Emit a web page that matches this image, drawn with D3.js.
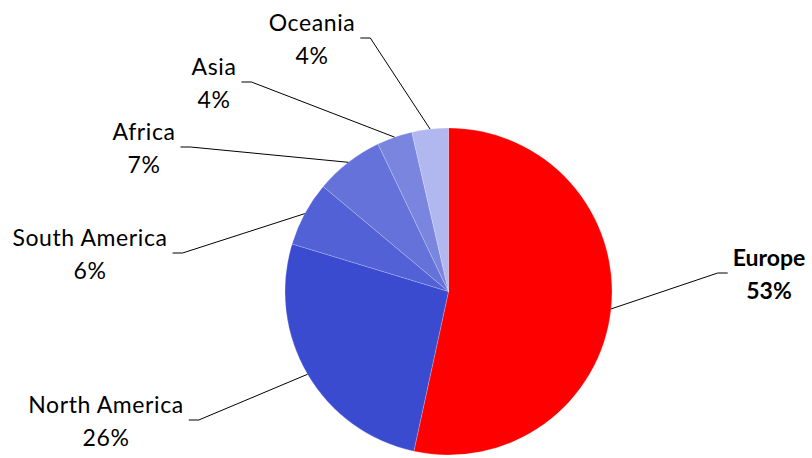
<!DOCTYPE html>
<html>
<head>
<meta charset="utf-8">
<script src="https://cdn.jsdelivr.net/npm/d3@7"></script>
<style>
  html, body { margin: 0; padding: 0; background: #fff; }
  svg { display: block; }
  text { font-family: Lato, "Open Sans", sans-serif; fill: #000; }
</style>
</head>
<body>
<svg id="chart" width="812" height="458"></svg>
<script>
// ---- data ----
const regions = ["Europe", "North America", "South America", "Africa", "Asia", "Oceania"];
const shares  = [53.4, 26.3, 6.4, 6.8, 3.5, 3.6];
const colors  = ["#ff0000", "#3a4bd0", "#5262d6", "#6572d9", "#7985de", "#b1b7ef"];
const boldLabel = ["Europe"];

// ---- layout (label text centre x, first baseline y) ----
const labelLayout = [
  { cx: 769, y: 266, side: "right" },
  { cx: 106, y: 413, side: "left" },
  { cx: 90,  y: 246, side: "left" },
  { cx: 144, y: 140, side: "left" },
  { cx: 214, y: 75,  side: "left" },
  { cx: 312, y: 31,  side: "left" }
];

const svg = d3.select("#chart");
const cx = 448.5, cy = 291.5, r = 163.5;

const data = regions.map((name, i) => ({ name, value: shares[i], color: colors[i], layout: labelLayout[i] }));

const pie = d3.pie().value(d => d.value).sort(null);
const arc = d3.arc().innerRadius(0).outerRadius(r);
const arcs = pie(data);

const g = svg.append("g").attr("transform", `translate(${cx},${cy})`);

g.selectAll("path.slice")
  .data(arcs)
  .join("path")
  .attr("class", "slice")
  .attr("d", arc)
  .attr("fill", d => d.data.color)
  .attr("stroke", "rgba(255,255,255,0.25)")
  .attr("stroke-width", 0.8);

const fs = 23;
const labels = svg.append("g");

arcs.forEach(a => {
  const d = a.data, L = d.layout;
  const bold = boldLabel.includes(d.name);
  const t = labels.append("text")
    .attr("text-anchor", "middle")
    .attr("font-size", fs)
    .attr("font-weight", bold ? "bold" : "normal")
    .attr("letter-spacing", bold ? 0 : 0.6);
  t.append("tspan").attr("x", L.cx).attr("y", L.y).text(d.name);
  t.append("tspan").attr("x", L.cx).attr("y", L.y + 33).text(Math.round(d.value) + "%");

  const w = t.node().getBBox().width;
  const mid = (a.startAngle + a.endAngle) / 2;
  const sx = cx + r * Math.sin(mid), sy = cy - r * Math.cos(mid);
  const ly = L.y + 7;
  let ex, elx;
  if (L.side === "left") { ex = L.cx + w / 2 + 5; elx = ex + 10; }
  else { ex = L.cx - w / 2 - 5; elx = ex - 10; }
  labels.append("polyline")
    .attr("points", [[sx, sy], [elx, ly], [ex, ly]].map(p => p.join(",")).join(" "))
    .attr("fill", "none")
    .attr("stroke", "#000")
    .attr("stroke-width", 1);
});
</script>
</body>
</html>
